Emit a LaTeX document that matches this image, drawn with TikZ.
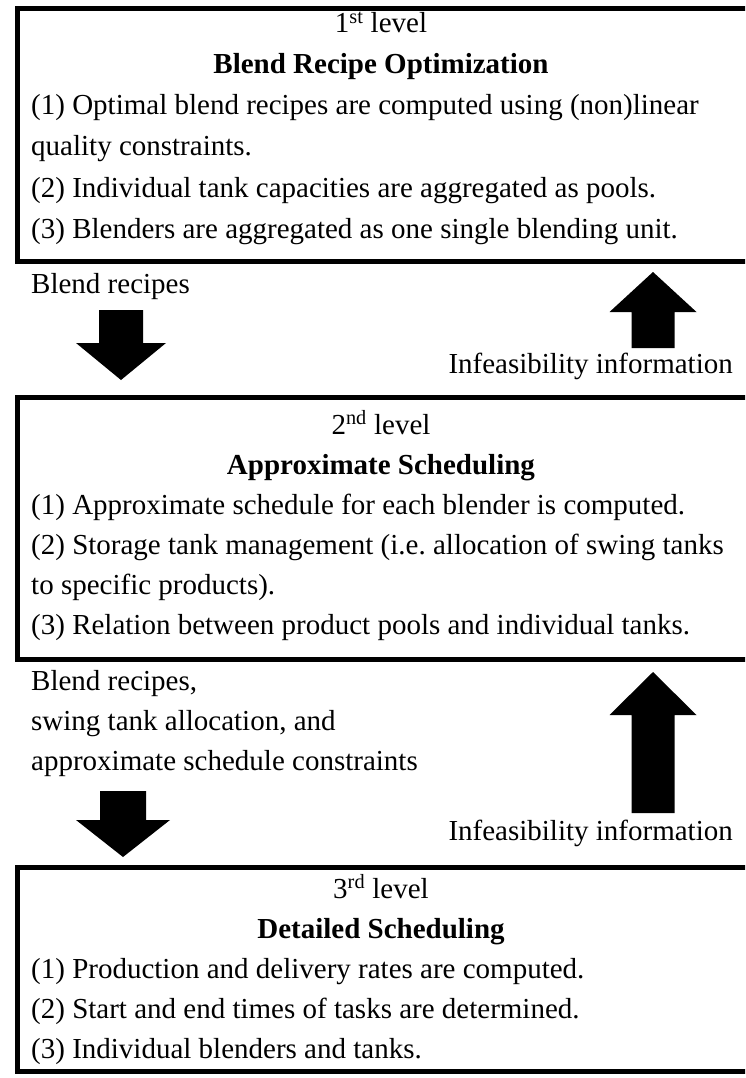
\documentclass[tikz,border=0pt]{standalone}
\usepackage{fontspec}
\setmainfont{Liberation Serif}
\begin{document}
\begin{tikzpicture}[x=1pt,y=-1pt,
  box/.style={draw=black,line width=5pt,rectangle,anchor=north west,inner sep=0pt},
  txt/.style={anchor=base west,inner sep=0pt,font=\fontsize{29}{35}\selectfont},
  ctr/.style={anchor=base,inner sep=0pt,font=\fontsize{29}{35}\selectfont},
  rtxt/.style={anchor=base east,inner sep=0pt,font=\fontsize{29}{35}\selectfont},
  blk/.style={fill=black}]
\useasboundingbox (0,0) rectangle (745,1078);
\clip (0,0) rectangle (745,1078);
% boxes
\node[box,minimum width=742pt,minimum height=252pt] (b1) at (14.5,6.5) {};
\node[box,minimum width=742pt,minimum height=262.5pt] (b2) at (14.5,394.5) {};
\node[box,minimum width=742pt,minimum height=204pt] (b3) at (14.5,864.5) {};
% box 1 text
\node[ctr] (t1a) at (381,33) {1\textsuperscript{st} level};
\node[ctr] (t1b) at (381,74) {\bfseries Blend Recipe Optimization};
\node[txt] (t1c) at (31,115) {(1) Optimal blend recipes are computed using (non)linear};
\node[txt] (t1d) at (31,156) {quality constraints.};
\node[txt] (t1e) at (31,197) {(2) Individual tank capacities are aggregated as pools.};
\node[txt] (t1f) at (31,238) {(3) Blenders are aggregated as one single blending unit.};
% between 1 and 2
\node[txt] (l1) at (31,293) {Blend recipes};
\node[rtxt] (r1) at (733,373) {Infeasibility information};
\coordinate (d1) at (121,380);
\coordinate (u1) at (653,272);
\fill[blk,shift={(d1)}] (0,0) -- (-45,-37) -- (-22,-37) -- (-22,-70) -- (22,-70) -- (22,-37) -- (45,-37) -- cycle;
\fill[blk,shift={(u1)}] (0,0) -- (-43.5,40) -- (-21.5,40) -- (-21.5,76) -- (21.5,76) -- (21.5,40) -- (43.5,40) -- cycle;
% box 2 text
\node[ctr] (t2a) at (381,434) {2\textsuperscript{nd} level};
\node[ctr] (t2b) at (381,474) {\bfseries Approximate Scheduling};
\node[txt] (t2c) at (31,514) {(1) Approximate schedule for each blender is computed.};
\node[txt] (t2d) at (31,554) {(2) Storage tank management (i.e.\ allocation of swing tanks};
\node[txt] (t2e) at (31,594) {to specific products).};
\node[txt] (t2f) at (31,634) {(3) Relation between product pools and individual tanks.};
% between 2 and 3
\node[txt] (l2a) at (31,690) {Blend recipes,};
\node[txt] (l2b) at (31,730) {swing tank allocation, and};
\node[txt] (l2c) at (31,770) {approximate schedule constraints};
\node[rtxt] (r2) at (733,840) {Infeasibility information};
\coordinate (d2) at (123,857);
\coordinate (u2) at (653,672);
\fill[blk,shift={(d2)}] (0,0) -- (-47,-37) -- (-23,-37) -- (-23,-66) -- (23,-66) -- (23,-37) -- (47,-37) -- cycle;
\fill[blk,shift={(u2)}] (0,0) -- (-43.5,43) -- (-21.5,43) -- (-21.5,141) -- (21.5,141) -- (21.5,43) -- (43.5,43) -- cycle;
% box 3 text
\node[ctr] (t3a) at (381,898) {3\textsuperscript{rd} level};
\node[ctr] (t3b) at (381,938) {\bfseries Detailed Scheduling};
\node[txt] (t3c) at (31,978) {(1) Production and delivery rates are computed.};
\node[txt] (t3d) at (31,1018) {(2) Start and end times of tasks are determined.};
\node[txt] (t3e) at (31,1058) {(3) Individual blenders and tanks.};
\end{tikzpicture}
\end{document}
